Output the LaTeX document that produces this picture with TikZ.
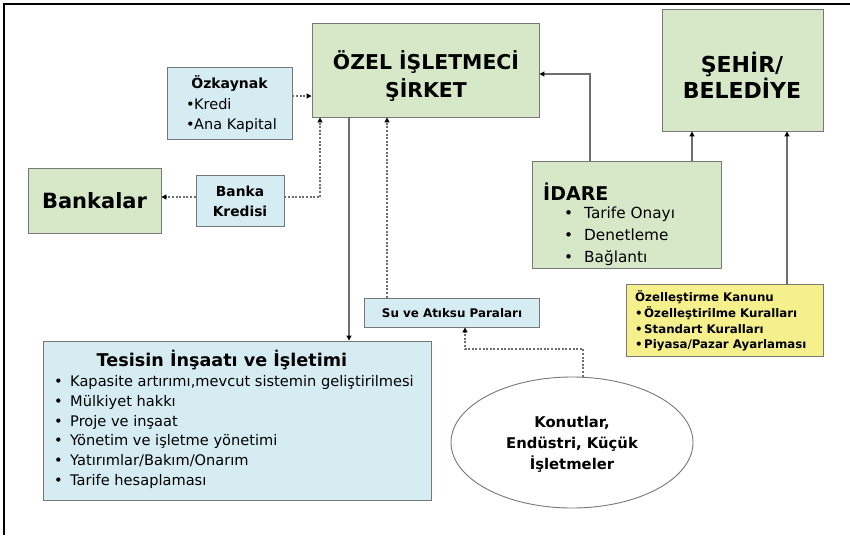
\documentclass[tikz,border=0pt]{standalone}
\usepackage{fontspec}
\setmainfont{DejaVu Sans}
\usetikzlibrary{arrows.meta,shapes.geometric}
\definecolor{gfill}{RGB}{214,232,200}
\definecolor{bfill}{RGB}{214,236,243}
\definecolor{yfill}{RGB}{246,240,140}
\definecolor{boxline}{RGB}{120,120,120}
\definecolor{lineclr}{RGB}{110,110,110}
\newcommand{\fs}[2]{\fontsize{#1}{#2}\selectfont}
\newcommand{\bul}[1]{\makebox[#1][l]{•}}
\tikzset{
  box/.style={draw=boxline, line width=0.9pt, inner sep=0pt},
  gbox/.style={box, fill=gfill},
  bbox/.style={box, fill=bfill},
  ybox/.style={box, fill=yfill},
  txt/.style={inner sep=0pt, text=black},
  conn/.style={draw=lineclr, line width=1.3pt, -{Triangle[length=5pt,width=5pt,color=black]}},
  dconn/.style={conn, dash pattern=on 2pt off 1.6pt},
}
\begin{document}
\begin{tikzpicture}[x=1pt,y=-1pt]
\useasboundingbox (0,0) rectangle (850,535);
\fill[white] (0,0) rectangle (850,535);
% frame
\draw[line width=1.3pt] (4,535) -- (4,4) -- (850,4);

% boxes
\node[gbox, minimum width=227, minimum height=94] (ozel) at (425.5,70) {};
\node[gbox, minimum width=161, minimum height=122] (sehir) at (742.5,70) {};
\node[gbox, minimum width=189, minimum height=107] (idare) at (626.5,214.5) {};
\node[bbox, minimum width=125, minimum height=72] (ozk) at (229.5,103) {};
\node[gbox, minimum width=133, minimum height=65] (bank) at (94.5,200.5) {};
\node[bbox, minimum width=88, minimum height=51] (bkred) at (240,200.5) {};
\node[bbox, minimum width=175, minimum height=29] (su) at (451.5,312.5) {};
\node[bbox, minimum width=388, minimum height=159] (tes) at (237,420.5) {};
\node[ybox, minimum width=197, minimum height=72] (yel) at (724.5,320) {};
\node[ellipse, draw=boxline, line width=0.9pt, fill=white, inner sep=0pt,
      minimum width=242, minimum height=131] (ell) at (572,442.5) {};

% texts
\node[txt, align=center, font=\bfseries\fs{20.4}{28}] (ozelt) at (426,76.5) {ÖZEL İŞLETMECİ\\ŞİRKET};
\node[txt, align=center, font=\bfseries\fs{22}{26}] (sehirt) at (742,75.5) {ŞEHİR/\\BELEDİYE};
\node[txt, font=\bfseries\fs{21}{24}] (bankt) at (94.5,200.5) {Bankalar};
\node[txt, align=center, font=\bfseries\fs{13.8}{20}] (bkredt) at (240,201.5) {Banka\\Kredisi};
\node[txt, font=\bfseries\fs{14}{15}] (ozkt) at (229.5,84) {Özkaynak};
\node[txt, align=left, anchor=north west, font=\fs{14.5}{20}] (ozkl) at (186,98) {\bul{8pt}Kredi\\\bul{8pt}Ana Kapital};
\node[txt, anchor=west, font=\bfseries\fs{19}{20}] (idaret) at (543,192) {İDARE};
\node[txt, align=left, anchor=north west, font=\fs{15.3}{22}] (idarel) at (564,207) {\bul{20pt}Tarife Onayı\\\bul{20pt}Denetleme\\\bul{20pt}Bağlantı};
\node[txt, font=\bfseries\fs{11.9}{12}] (sut) at (452,313) {Su ve Atıksu Paraları};
\node[txt, font=\bfseries\fs{17.6}{20}] (test) at (222,360) {Tesisin İnşaatı ve İşletimi};
\node[txt, align=left, anchor=north west, font=\fs{14.6}{19.7}] (tesl) at (54,375.5) {%
\bul{16pt}Kapasite artırımı,mevcut sistemin geliştirilmesi\\
\bul{16pt}Mülkiyet hakkı\\
\bul{16pt}Proje ve inşaat\\
\bul{16pt}Yönetim ve işletme yönetimi\\
\bul{16pt}Yatırımlar/Bakım/Onarım\\
\bul{16pt}Tarife hesaplaması};
\node[txt, align=left, anchor=north west, font=\bfseries\fs{11.8}{15.7}] (yelt) at (635,290.5) {%
Özelleştirme Kanunu\\
\bul{9pt}Özelleştirilme Kuralları\\
\bul{9pt}Standart Kuralları\\
\bul{9pt}Piyasa/Pazar Ayarlaması};
\node[txt, align=center, font=\bfseries\fs{14.8}{21}] (ellt) at (572,444.5) {Konutlar,\\Endüstri, Küçük\\İşletmeler};

% helper coordinates for connector positions
\coordinate (xa) at (590,0);
\coordinate (xb) at (692,0);
\coordinate (xc) at (787,0);
\coordinate (xd) at (320,0);
\coordinate (xe) at (349,0);
\coordinate (xf) at (387,0);
\coordinate (xg) at (583,0);
\coordinate (xh) at (465,0);
\coordinate (ya) at (0,74);
\coordinate (yb) at (0,96);
\coordinate (yc) at (0,197);
\coordinate (yd) at (0,349);

% connectors
\draw[conn] (idare.north -| xa) |- (ozel.east |- ya);
\draw[conn] (idare.north -| xb) -- (sehir.south -| xb);
\draw[conn] (yel.north -| xc) -- (sehir.south -| xc);
\draw[conn] (ozel.south -| xe) -- (tes.north -| xe);
\draw[dconn] (ozk.east |- yb) -- (ozel.west |- yb);
\draw[dconn] (bkred.west |- yc) -- (bank.east |- yc);
\draw[dconn] (bkred.east |- yc) -| (ozel.south -| xd);
\draw[dconn] (su.north -| xf) -- (ozel.south -| xf);
\draw[dconn] (ell.north -| xg) -- (xg |- yd) -| (su.south -| xh);
\end{tikzpicture}
\end{document}
